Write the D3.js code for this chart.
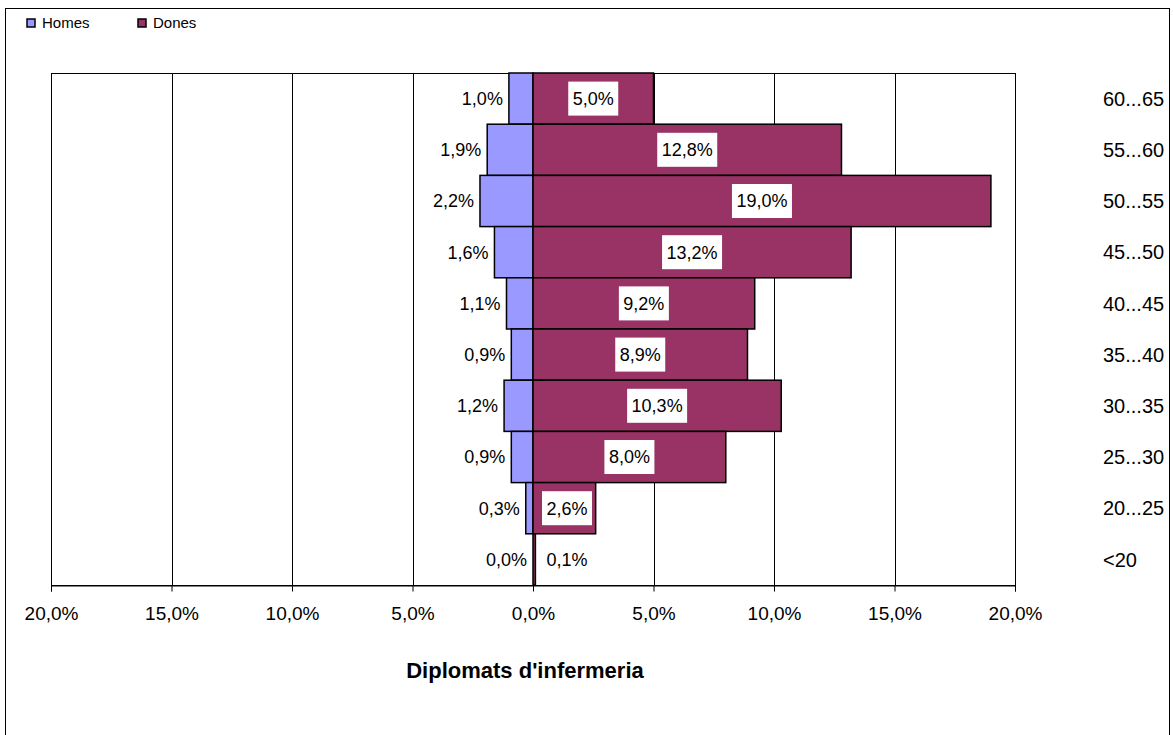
<!DOCTYPE html>
<html>
<head>
<meta charset="utf-8">
<script src="https://cdn.jsdelivr.net/npm/d3@7"></script>
<style>
  body { margin: 0; background: #fff; }
  svg { display: block; font-family: Arial, "Liberation Sans", sans-serif; }
</style>
</head>
<body>
<svg width="1173" height="735"></svg>
<script>
// age groups, top to bottom
var categories = ["60...65", "55...60", "50...55", "45...50", "40...45", "35...40", "30...35", "25...30", "20...25", "<20"];
var homes = [1.0, 1.9, 2.2, 1.6, 1.1, 0.9, 1.2, 0.9, 0.3, 0.0];
var dones = [5.0, 12.8, 19.0, 13.2, 9.2, 8.9, 10.3, 8.0, 2.6, 0.1];
var xTicks = [-20, -15, -10, -5, 0, 5, 10, 15, 20];
var seriesNames = ["Homes", "Dones"];
var colors = ["#9999FF", "#993366"];
var title = "Diplomats d'infermeria";

var svg = d3.select("svg");
var fmt = function(v){ return d3.format(".1f")(Math.abs(v)).replace(".", ",") + "%"; };

// outer frame
svg.append("rect")
    .attr("x", 5.5).attr("y", 8.5)
    .attr("width", 1164).attr("height", 740)
    .attr("fill", "none").attr("stroke", "#000").attr("stroke-width", 1);

var pLeft = 51, pRight = 1015, pTop = 73, pBottom = 585;

var x = d3.scaleLinear().domain([-20, 20]).range([pLeft, pRight]);
var y = d3.scaleBand().domain(categories).range([pTop, pBottom]).padding(0);

// gridlines
svg.append("g")
    .selectAll("line")
    .data(xTicks)
    .enter()
    .append("line")
    .attr("x1", d => Math.round(x(d)) + 0.5)
    .attr("x2", d => Math.round(x(d)) + 0.5)
    .attr("y1", pTop).attr("y2", pBottom)
    .attr("stroke", "#000").attr("stroke-width", 1);

svg.append("rect")
    .attr("x", pLeft + 0.5).attr("y", pTop + 0.5)
    .attr("width", pRight - pLeft).attr("height", pBottom - pTop)
    .attr("fill", "none").attr("stroke", "#000");

// x axis
var xAxis = d3.axisBottom(x)
    .tickValues(xTicks)
    .tickSize(6)
    .tickFormat(fmt);
var ax = svg.append("g")
    .attr("transform", "translate(0," + (pBottom + 0.5) + ")")
    .call(xAxis);
ax.select(".domain").attr("stroke", "#000");
ax.selectAll(".tick line").attr("stroke", "#000");
ax.selectAll(".tick text")
    .attr("font-family", "Arial, 'Liberation Sans', sans-serif")
    .attr("font-size", 19)
    .attr("fill", "#000")
    .attr("y", 0)
    .attr("dy", "1.8em");

// bars: homes to the left
svg.append("g")
    .selectAll("rect")
    .data(homes)
    .enter()
    .append("rect")
    .attr("x", d => x(-d))
    .attr("y", (d, i) => y(categories[i]))
    .attr("width", d => x(0) - x(-d))
    .attr("height", y.bandwidth())
    .attr("fill", colors[0])
    .attr("stroke", "#000").attr("stroke-width", 1.5);

// bars: dones to the right
svg.append("g")
    .selectAll("rect")
    .data(dones)
    .enter()
    .append("rect")
    .attr("x", x(0))
    .attr("y", (d, i) => y(categories[i]))
    .attr("width", d => x(d) - x(0))
    .attr("height", y.bandwidth())
    .attr("fill", colors[1])
    .attr("stroke", "#000").attr("stroke-width", 1.5);

// homes labels
svg.append("g")
    .selectAll("text")
    .data(homes)
    .enter()
    .append("text")
    .attr("x", d => x(-d) - 6)
    .attr("y", (d, i) => y(categories[i]) + y.bandwidth() / 2)
    .attr("dy", "0.36em")
    .attr("text-anchor", "end")
    .attr("font-size", 18)
    .text(d => fmt(d));

// dones labels with white box
var dl = svg.append("g")
    .selectAll("g")
    .data(dones)
    .enter()
    .append("g")
    .attr("transform", (d, i) => "translate(" + Math.max((x(0) + x(d)) / 2, x(0) + 34) + "," + (y(categories[i]) + y.bandwidth() / 2) + ")");
dl.append("rect")
    .attr("x", d => d >= 10 ? -30 : -25)
    .attr("y", -17)
    .attr("width", d => d >= 10 ? 60 : 50)
    .attr("height", 34)
    .attr("fill", "#fff");
dl.append("text")
    .attr("text-anchor", "middle")
    .attr("dy", "0.36em")
    .attr("font-size", 18)
    .text(d => fmt(d));

// category labels at right
svg.append("g")
    .selectAll("text")
    .data(categories)
    .enter()
    .append("text")
    .attr("x", 1103)
    .attr("y", d => y(d) + y.bandwidth() / 2)
    .attr("dy", "0.36em")
    .attr("font-size", 20)
    .text(d => d);

// title
svg.append("text")
    .attr("x", 525)
    .attr("y", 670)
    .attr("dy", "0.36em")
    .attr("text-anchor", "middle")
    .attr("font-size", 22)
    .attr("font-weight", "bold")
    .text(title);

// legend
var lg = svg.append("g")
    .selectAll("g")
    .data(seriesNames)
    .enter()
    .append("g")
    .attr("transform", (d, i) => "translate(" + (27 + i * 111) + ",19)");
lg.append("rect")
    .attr("width", 8).attr("height", 8)
    .attr("fill", (d, i) => colors[i])
    .attr("stroke", "#000").attr("stroke-width", 1.5);
lg.append("text")
    .attr("x", 15)
    .attr("y", 9)
    .attr("font-size", 15)
    .text(d => d);
</script>
</body>
</html>
